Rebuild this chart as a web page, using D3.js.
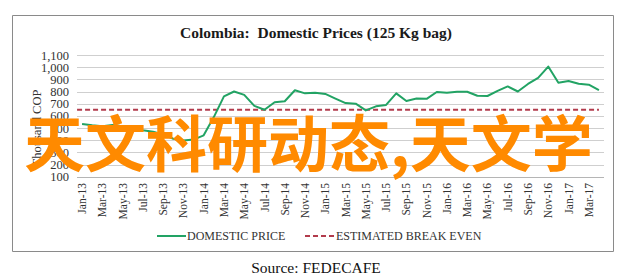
<!DOCTYPE html>
<html>
<head>
<meta charset="utf-8">
<script src="https://cdn.jsdelivr.net/npm/d3@7"></script>
</head>
<body style="margin:0">
<svg width="622" height="277" id="chart"></svg>
<script>
// monthly categories Jan-13 .. Apr-17
const months = ["Jan-13","Feb-13","Mar-13","Apr-13","May-13","Jun-13","Jul-13","Aug-13","Sep-13","Oct-13","Nov-13","Dec-13",
  "Jan-14","Feb-14","Mar-14","Apr-14","May-14","Jun-14","Jul-14","Aug-14","Sep-14","Oct-14","Nov-14","Dec-14",
  "Jan-15","Feb-15","Mar-15","Apr-15","May-15","Jun-15","Jul-15","Aug-15","Sep-15","Oct-15","Nov-15","Dec-15",
  "Jan-16","Feb-16","Mar-16","Apr-16","May-16","Jun-16","Jul-16","Aug-16","Sep-16","Oct-16","Nov-16","Dec-16",
  "Jan-17","Feb-17","Mar-17","Apr-17"];

// thousand COP per 125 kg bag
const domesticPrice = [533,522,515,525,515,498,482,470,448,412,398,405,
  440,590,760,800,772,682,650,712,720,810,785,790,
  780,742,705,700,645,678,690,785,722,742,740,796,
  790,798,798,765,763,805,842,800,862,912,1005,872,
  886,864,856,812];

const breakEven = months.map(() => 650);

const yTicks = [100,200,300,400,500,600,700,800,900,1000,1100];

const SERIF = "Times New Roman";

const svg = d3.select("#chart");

// outer frame
svg.append("path")
    .attr("d", "M12.5,251.5 L12.5,15.5 L613.5,15.5 L613.5,251.5 Z")
    .attr("fill", "none")
    .attr("stroke", "#8a8a8a")
    .attr("stroke-width", 1);

function label(sel, size) {
    return sel.attr("font-family", SERIF)
        .style("font-family", SERIF)
        .style("font-size", size + "px");
}

label(svg.append("text"), 15.5)
    .attr("x", 316)
    .attr("y", 38)
    .attr("text-anchor", "middle")
    .style("font-weight", "bold")
    .attr("fill", "#1a1a1a")
    .text("Colombia:\u00a0 Domestic Prices (125 Kg bag)");

const x = d3.scaleBand()
    .domain(months)
    .range([77, 604]);

const y = d3.scaleLinear()
    .domain([100, 1100])
    .range([176.7, 55]);

const g = svg.append("g");

// gridlines
g.selectAll("line.grid")
    .data(yTicks)
    .join("line")
    .attr("class", "grid")
    .attr("x1", 77)
    .attr("x2", 604)
    .attr("y1", d => Math.round(y(d)) + 0.5)
    .attr("y2", d => Math.round(y(d)) + 0.5)
    .attr("stroke", d => d === 100 ? "#b5b5b5" : "#cfcfcf")
    .attr("stroke-width", 1);

// y axis labels
const yAxis = g.append("g")
    .attr("transform", "translate(77,0)")
    .call(d3.axisLeft(y).tickValues(yTicks).tickFormat(d3.format(",")).tickSize(0).tickPadding(8));
yAxis.attr("font-family", SERIF);
yAxis.select(".domain").remove();
label(yAxis.selectAll("text"), 12.5)
    .attr("fill", "#333");

label(svg.append("text"), 12.5)
    .attr("transform", "translate(41,128) rotate(-90)")
    .attr("text-anchor", "middle")
    .attr("fill", "#333")
    .text("Thousand COP");

// x axis labels (every other month)
const xAxis = g.append("g")
    .attr("transform", "translate(0,178)")
    .call(d3.axisBottom(x).tickValues(months.filter((d, i) => i % 2 === 0)).tickSize(0).tickPadding(5));
xAxis.attr("font-family", SERIF);
xAxis.select(".domain").remove();
label(xAxis.selectAll("text"), 11.5)
    .attr("fill", "#333")
    .attr("text-anchor", "end")
    .attr("transform", "rotate(-90)")
    .attr("x", -5)
    .attr("y", 0)
    .attr("dy", "0.35em");

const cx = d => x(d) + x.bandwidth() / 2;

// break even line
g.append("path")
    .datum(breakEven)
    .attr("fill", "none")
    .attr("stroke", "#b23b4c")
    .attr("stroke-width", 2)
    .attr("stroke-dasharray", "5,3")
    .attr("d", d3.line().x((d, i) => cx(months[i]) - (i === 0 ? 5 : 0)).y(d => y(d)));

// domestic price
g.append("path")
    .datum(domesticPrice)
    .attr("fill", "none")
    .attr("stroke", "#22a364")
    .attr("stroke-width", 2)
    .attr("stroke-linejoin", "round")
    .attr("d", d3.line().x((d, i) => cx(months[i])).y(d => y(d)));

// legend
const legend = svg.append("g")
    .attr("fill", "#333");
legend.append("line")
    .attr("x1", 157).attr("x2", 186).attr("y1", 236).attr("y2", 236)
    .attr("stroke", "#22a364").attr("stroke-width", 2);
legend.append("line")
    .attr("x1", 305).attr("x2", 335).attr("y1", 236).attr("y2", 236)
    .attr("stroke", "#b23b4c").attr("stroke-width", 2).attr("stroke-dasharray", "5,3");
label(legend.selectAll("text")
    .data([["DOMESTIC PRICE", 187], ["ESTIMATED BREAK EVEN", 336]])
    .join("text"), 12)
    .attr("x", d => d[1])
    .attr("y", 240)
    .text(d => d[0]);

label(svg.append("text"), 15.5)
    .attr("x", 316)
    .attr("y", 273)
    .attr("text-anchor", "middle")
    .attr("fill", "#111")
    .text("Source: FEDECAFE");

// watermark text
svg.append("text")
    .attr("x", 24)
    .attr("y", 167)
    .attr("font-family", "Noto Sans CJK SC")
    .style("font-family", "Noto Sans CJK SC")
    .style("font-weight", "bold")
    .style("font-size", "61px")
    .attr("fill", "#ff8a00")
    .text("天文科研动态,天文学");
</script>
</body>
</html>
